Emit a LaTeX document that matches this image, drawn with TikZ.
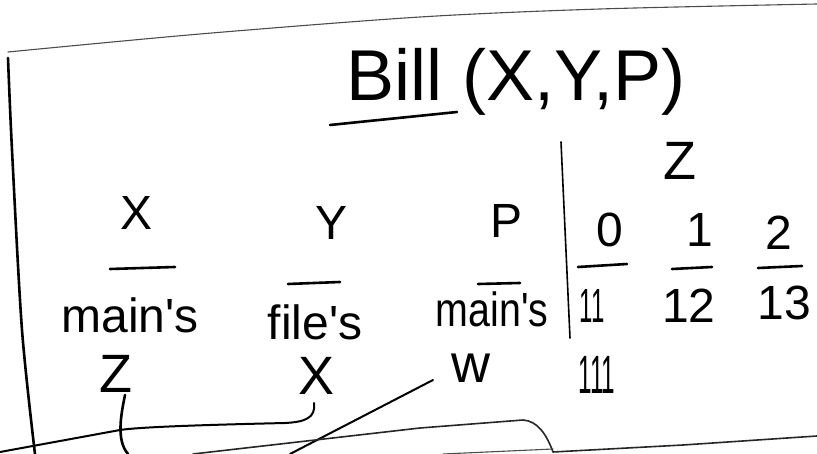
\documentclass[tikz,border=0pt]{standalone}
\usepackage{fontspec}
\newfontfamily\hand{Liberation Sans}
\begin{document}
\begin{tikzpicture}[x=1pt,y=-1pt,
  hw/.style={inner sep=0pt, anchor=base, font=\hand\fontsize{48}{48}\selectfont},
  big/.style={hw, font=\hand\fontsize{54}{54}\selectfont},
  ttl/.style={hw, font=\hand\fontsize{72}{72}\selectfont},
  pen/.style={line width=2pt, line cap=round, line join=round},
  faint/.style={line width=1.1pt, black!70, line cap=round, line join=round},
  bar/.style={line width=2.6pt, line cap=round, line join=round}]
\useasboundingbox (0,0) rectangle (817,454);

% frame of the sheet
\draw[faint] plot[smooth] coordinates {(8,52) (200,34) (420,17) (600,9) (817,4)};
\draw[bar] plot[smooth] coordinates {(8,58) (12,150) (22,330) (35,454)};

% title
\node[ttl] (title) at (516,101) {Bill (X,Y,P)};
\draw[bar] (330,125) -- (457,112);

% header row
\node[hw] (hx) at (137,230) {X};
\node[hw] (hy) at (332,240) {Y};
\node[hw] (hp) at (507,238) {P};
\node[big] (hz) at (680,180) {Z};
\node[hw] (h0) at (610,247) {0};
\node[hw] (h1) at (700,247) {1};
\node[hw] (h2) at (779,250) {2};

% separator
\draw[line width=1.6pt, line cap=round] (561,142) -- (570,338);

% blanks
\draw[bar] (110,269) -- (175,267);
\draw[bar] (288,284) -- (340,282);
\draw[bar] (478,284) -- (520,283);
\draw[bar] (578,267) -- (627,264);
\draw[bar] (672,269) -- (712,267);
\draw[bar] (758,268) -- (802,266);

% owners
\node[hw] (mx) at (130,333) {main's};
\node[hw] (fy) at (315,340) {file's};
\node[hw] (mp) at (492,327) {\scalebox{0.82}[1]{main's}};
\node[hw] (v11) at (592,323) {\scalebox{0.5}[1]{11}};
\node[hw] (v12) at (689,323) {12};
\node[hw] (v13) at (784,320) {13};

% names
\node[big] (z4) at (116,392) {Z};
\node[big] (x4) at (317,395) {X};
\node[big] (w4) at (471,382) {w};
\node[big] (v111) at (597,393) {\scalebox{0.45}[1]{111}};

% connectors
\coordinate (zt) at (125,395);
\coordinate (zb) at (128,454);
\draw[bar] (zt) .. controls (121,415) and (116,440) .. (zb);

\coordinate (xt) at (314,403);
\coordinate (edge1) at (0,452);
\draw[pen] (xt) .. controls (316,418) and (305,422) .. (285,423)
  .. controls (200,425) and (140,427) .. (120,430) -- (edge1);

\coordinate (wt) at (433,380);
\coordinate (wb) at (290,454);
\draw[pen] (wt) -- (wb);

\coordinate (b1) at (193,454);
\coordinate (b2) at (817,436);
\draw[faint, line width=1.6pt, black!85] (b1) -- (420,428) -- (523,420)
  .. controls (537,421) and (546,433) .. (553,452) -- (683,445) -- (b2);
\draw[faint] (443,454) -- (553,449);
\end{tikzpicture}
\end{document}
